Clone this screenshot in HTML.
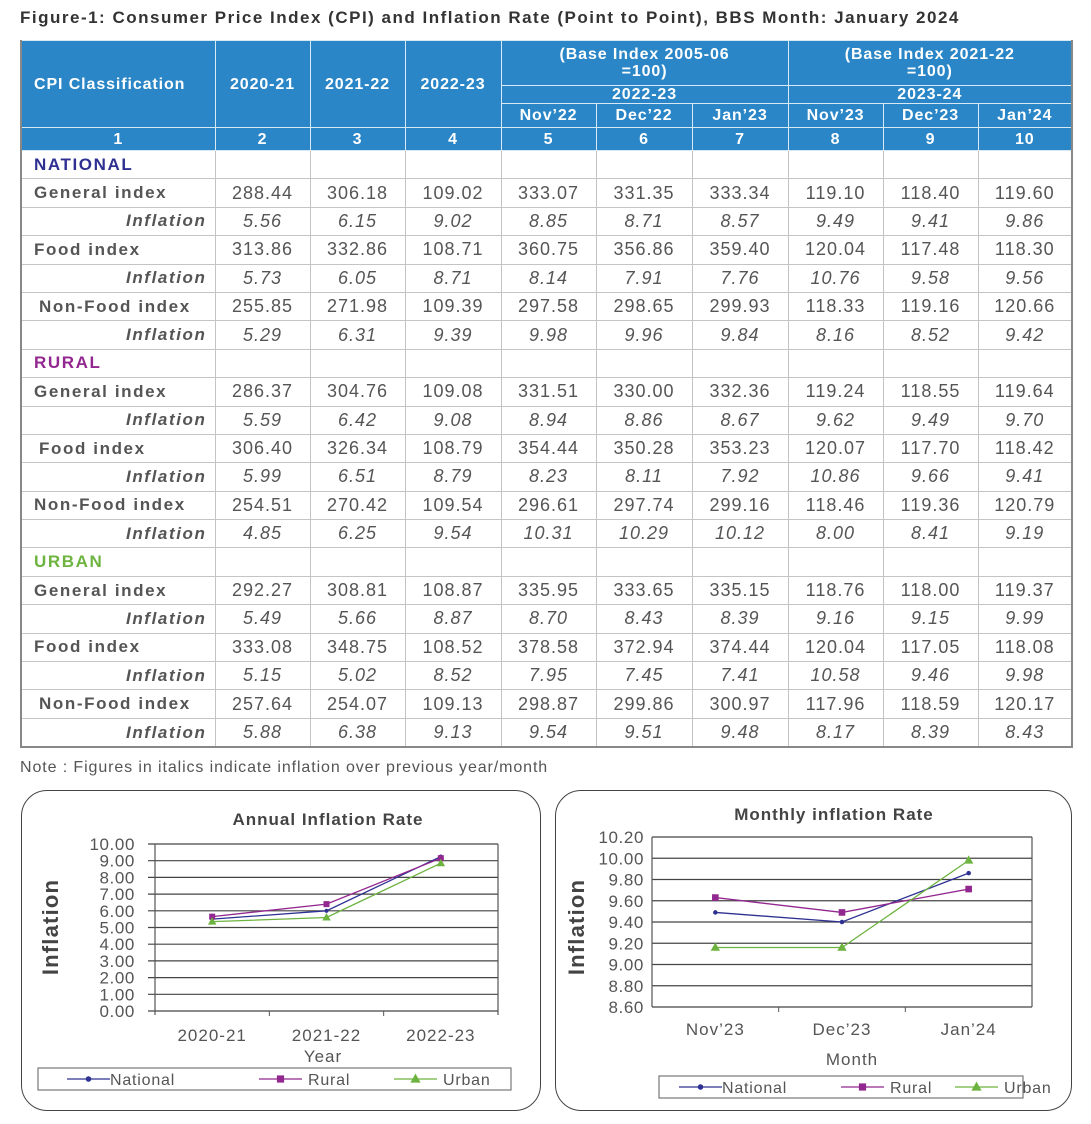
<!DOCTYPE html>
<html><head><meta charset="utf-8">
<style>
body{margin:0;width:1091px;height:1124px;background:#fff;font-family:"Liberation Sans",sans-serif;position:relative;overflow:hidden}
#title{position:absolute;left:20px;top:8px;font-size:17px;font-weight:bold;color:#333;white-space:nowrap;letter-spacing:1.5px}
table{position:absolute;left:20px;top:40px;border-collapse:collapse;table-layout:fixed;width:1051px}
td,th{padding:0;text-align:center;white-space:nowrap;overflow:hidden}
th{background:#2a86c7;color:#fff;font-size:16px;font-weight:bold;border:1px solid #d8e8f5;line-height:17px;letter-spacing:0.9px}
td{border:1px solid #c4c4c4;font-size:18px;color:#555;height:27.4px;letter-spacing:1px}
td.lab{text-align:left;font-weight:bold;padding-left:12px;color:#555;font-size:17px;letter-spacing:1.6px}
td.lab2{padding-left:17px}
td.inf{text-align:right;font-weight:bold;font-style:italic;padding-right:8px;font-size:17px;letter-spacing:1.6px}
tr.i td{font-style:italic}
td.sec{font-weight:bold;padding-left:12px;text-align:left;font-size:17px;letter-spacing:1.6px}
table{border-left:2px solid #888;border-right:2px solid #888;border-bottom:2px solid #888}
#note{position:absolute;left:20px;top:759px;font-size:16px;color:#555;letter-spacing:0.9px}
.box{position:absolute;border:1.5px solid #444;border-radius:26px;background:#fff}
</style></head><body>
<div id="title">Figure-1: Consumer Price Index (CPI) and Inflation Rate (Point to Point), BBS Month: January 2024</div>
<table>
<colgroup><col style="width:194px"><col style="width:95px"><col style="width:95px"><col style="width:96px"><col style="width:95px"><col style="width:96px"><col style="width:96px"><col style="width:95px"><col style="width:95px"><col style="width:94px"></colgroup>
<tr style="height:45px"><th rowspan="3" style="text-align:left;padding-left:12px">CPI Classification</th><th rowspan="3">2020-21</th><th rowspan="3">2021-22</th><th rowspan="3">2022-23</th><th colspan="3">(Base Index 2005-06<br>=100)</th><th colspan="3">(Base Index 2021-22<br>=100)</th></tr>
<tr style="height:18px"><th colspan="3">2022-23</th><th colspan="3">2023-24</th></tr>
<tr style="height:24px"><th>Nov’22</th><th>Dec’22</th><th>Jan’23</th><th>Nov’23</th><th>Dec’23</th><th>Jan’24</th></tr>
<tr style="height:23px"><th>1</th><th>2</th><th>3</th><th>4</th><th>5</th><th>6</th><th>7</th><th>8</th><th>9</th><th>10</th></tr>
<tbody id="tb"></tbody>
</table>
<div id="note">Note : Figures in italics indicate inflation over previous year/month</div>

<div class="box" style="left:21px;top:790px;width:518px;height:319px"></div>
<div class="box" style="left:555px;top:790px;width:515px;height:319px"></div>
<svg id="svg" width="1091" height="1124" style="position:absolute;left:0;top:0" font-family="Liberation Sans, sans-serif"></svg>

<script>
const rowsData=[
["sec","NATIONAL","#2e3192"],
["lab","General index",["288.44","306.18","109.02","333.07","331.35","333.34","119.10","118.40","119.60"]],
["inf","Inflation",["5.56","6.15","9.02","8.85","8.71","8.57","9.49","9.41","9.86"]],
["lab","Food index",["313.86","332.86","108.71","360.75","356.86","359.40","120.04","117.48","118.30"]],
["inf","Inflation",["5.73","6.05","8.71","8.14","7.91","7.76","10.76","9.58","9.56"]],
["lab2","Non-Food index",["255.85","271.98","109.39","297.58","298.65","299.93","118.33","119.16","120.66"]],
["inf","Inflation",["5.29","6.31","9.39","9.98","9.96","9.84","8.16","8.52","9.42"]],
["sec","RURAL","#92278f"],
["lab","General index",["286.37","304.76","109.08","331.51","330.00","332.36","119.24","118.55","119.64"]],
["inf","Inflation",["5.59","6.42","9.08","8.94","8.86","8.67","9.62","9.49","9.70"]],
["lab2","Food index",["306.40","326.34","108.79","354.44","350.28","353.23","120.07","117.70","118.42"]],
["inf","Inflation",["5.99","6.51","8.79","8.23","8.11","7.92","10.86","9.66","9.41"]],
["lab","Non-Food index",["254.51","270.42","109.54","296.61","297.74","299.16","118.46","119.36","120.79"]],
["inf","Inflation",["4.85","6.25","9.54","10.31","10.29","10.12","8.00","8.41","9.19"]],
["sec","URBAN","#6db33f"],
["lab","General index",["292.27","308.81","108.87","335.95","333.65","335.15","118.76","118.00","119.37"]],
["inf","Inflation",["5.49","5.66","8.87","8.70","8.43","8.39","9.16","9.15","9.99"]],
["lab","Food index",["333.08","348.75","108.52","378.58","372.94","374.44","120.04","117.05","118.08"]],
["inf","Inflation",["5.15","5.02","8.52","7.95","7.45","7.41","10.58","9.46","9.98"]],
["lab2","Non-Food index",["257.64","254.07","109.13","298.87","299.86","300.97","117.96","118.59","120.17"]],
["inf","Inflation",["5.88","6.38","9.13","9.54","9.51","9.48","8.17","8.39","8.43"]]
];
const tb=document.getElementById('tb');
rowsData.forEach(r=>{
  const tr=document.createElement('tr');
  
  
  if(r[0]==='sec'){
    let h='<td class="sec" style="color:'+r[2]+'">'+r[1]+'</td>';
    for(let i=0;i<9;i++)h+='<td></td>';
    tr.innerHTML=h;
  }else{
    let cls=r[0]==='inf'?'inf':(r[0]==='lab2'?'lab lab2':'lab');
    let h='<td class="'+cls+'">'+r[1]+'</td>';
    r[2].forEach(v=>h+='<td>'+v+'</td>');
    tr.innerHTML=h;
    if(r[0]==='inf')tr.className='i';
  }
  tb.appendChild(tr);
});

// chart data
const annualCats=["2020-21","2021-22","2022-23"];
const annualNational=[5.5,6.0,9.25];
const annualRural=[5.65,6.4,9.15];
const annualUrban=[5.35,5.6,8.85];
const annualTicks=[0,1,2,3,4,5,6,7,8,9,10];
const monthCats=["Nov’23","Dec’23","Jan’24"];
const monthNational=[9.49,9.40,9.86];
const monthRural=[9.63,9.49,9.71];
const monthUrban=[9.16,9.16,9.98];
const monthTicks=[8.6,8.8,9.0,9.2,9.4,9.6,9.8,10.0,10.2];

const svg=document.getElementById('svg');
const NS='http://www.w3.org/2000/svg';
function mk(tag,attrs,parent){const e=document.createElementNS(NS,tag);for(const k in attrs)e.setAttribute(k,attrs[k]);(parent||svg).appendChild(e);return e;}
const colors={n:"#2e3192",r:"#92278f",u:"#6db33f"};
function marker(g,type,x,y,c,s){
  if(type==='n')return mk('circle',{cx:x,cy:y,r:s*0.55,fill:c},g);
  if(type==='r')return mk('rect',{x:x-s*0.6,y:y-s*0.6,width:s*1.2,height:s*1.2,fill:c},g);
  return mk('polygon',{points:(x)+','+(y-s*0.9)+' '+(x-s*0.85)+','+(y+s*0.6)+' '+(x+s*0.85)+','+(y+s*0.6),fill:c},g);
}
function chart(o){
  const g=mk('g',{});
  
  
  const ymin=o.ticks[0],ymax=o.ticks[o.ticks.length-1];
  const Y=v=>o.y1-(v-ymin)/(ymax-ymin)*(o.y1-o.y0);
  const bw=(o.x1-o.x0)/o.cats.length;
  const X=i=>o.x0+bw*(i+0.5);
  o.ticks.forEach(t=>{
    const y=Y(t);
    const l=mk('line',{x1:o.x0-(o.tickOut||0),x2:o.x1,y1:y,y2:y,stroke:'#444','stroke-width':1.2},g);
    
    
    const tx=mk('text',{x:o.x0-(o.labGap),y:y+6,'text-anchor':'end','font-size':17,fill:'#555','letter-spacing':0.6},g);
    
    
    tx.textContent=t.toFixed(2);
  });
  mk('line',{x1:o.x0,x2:o.x0,y1:o.y0,y2:o.y1+(o.botTick||0),stroke:'#555','stroke-width':1.2},g);
  mk('line',{x1:o.x1,x2:o.x1,y1:o.y0,y2:o.y1+(o.botTick||0),stroke:'#555','stroke-width':1.2},g);
  for(let i=1;i<o.cats.length;i++)mk('line',{x1:o.x0+bw*i,x2:o.x0+bw*i,y1:o.y1,y2:o.y1+5,stroke:'#555'},g);
  o.cats.forEach((c,i)=>{
    const t=mk('text',{x:X(i),y:o.catY,'text-anchor':'middle','font-size':17,fill:'#555','letter-spacing':1},g);
    
    
    t.textContent=c;
  });
  const series=[['n',o.n,'National'],['r',o.r,'Rural'],['u',o.u,'Urban']];
  series.forEach(s=>{
    const pts=s[1].map((v,i)=>X(i)+','+Y(v)).join(' ');
    const pl=mk('polyline',{points:pts,fill:'none',stroke:colors[s[0]],'stroke-width':1.3},g);
    
    
    s[1].forEach((v,i)=>{
      const m=marker(g,s[0],X(i),Y(v),colors[s[0]],s[0]==='n'?o.ms*0.75:o.ms);
      
      
    });
  });
  const tt=mk('text',{x:o.titleX,y:o.titleY,'text-anchor':'middle','font-size':17,'font-weight':'bold',fill:'#444','letter-spacing':1},g);
  
  
  tt.textContent=o.title;
  const yt=mk('text',{x:0,y:0,'text-anchor':'middle','font-size':22,'font-weight':'bold',fill:'#444','letter-spacing':1.2,transform:'translate('+o.ytX+','+o.ytY+') rotate(-90)'},g);
  
  
  yt.textContent='Inflation';
  const xt=mk('text',{x:o.xtX,y:o.xtY,'text-anchor':'middle','font-size':17,fill:'#555','letter-spacing':1},g);
  
  
  xt.textContent=o.xtitle;
  const L=o.leg;
  const lb=mk('rect',{x:L.x,y:L.y,width:L.w,height:L.h,fill:'#fff',stroke:'#777','stroke-width':1.2},g);
  
  
  series.forEach((s,i)=>{
    const lx=L.x+L.off[i],cy=L.y+L.h/2;
    mk('line',{x1:lx,x2:lx+L.len,y1:cy,y2:cy,stroke:colors[s[0]],'stroke-width':1.3},g);
    marker(g,s[0],lx+L.len/2,cy,colors[s[0]],s[0]==='n'?5:6);
    const t=mk('text',{x:lx+L.len+(i===0?0:6),y:cy+6,'font-size':16,fill:'#555','letter-spacing':0.8},g);
    
    
    t.textContent=s[2];
  });
}
chart({name:'annual-inflation-chart',title:'Annual Inflation Rate',titleX:328,titleY:825,
  cats:annualCats,n:annualNational,r:annualRural,u:annualUrban,ticks:annualTicks,
  x0:155,x1:498,y0:844,y1:1011,tickOut:7,labGap:20,botTick:4,catY:1041,ms:5,
  ytX:58,ytY:927,xtX:323,xtY:1062,xtitle:'Year',
  leg:{x:38,y:1068,w:473,h:22,off:[29,221,356],len:43}});
chart({name:'monthly-inflation-chart',title:'Monthly inflation Rate',titleX:834,titleY:820,
  cats:monthCats,n:monthNational,r:monthRural,u:monthUrban,ticks:monthTicks,
  x0:652,x1:1032,y0:837,y1:1007,tickOut:0,labGap:8,botTick:0,catY:1035,ms:5.5,
  ytX:584,ytY:927,xtX:852,xtY:1065,xtitle:'Month',
  leg:{x:659,y:1076,w:364,h:22,off:[20,182,296],len:43}});
</script>
</body></html>
